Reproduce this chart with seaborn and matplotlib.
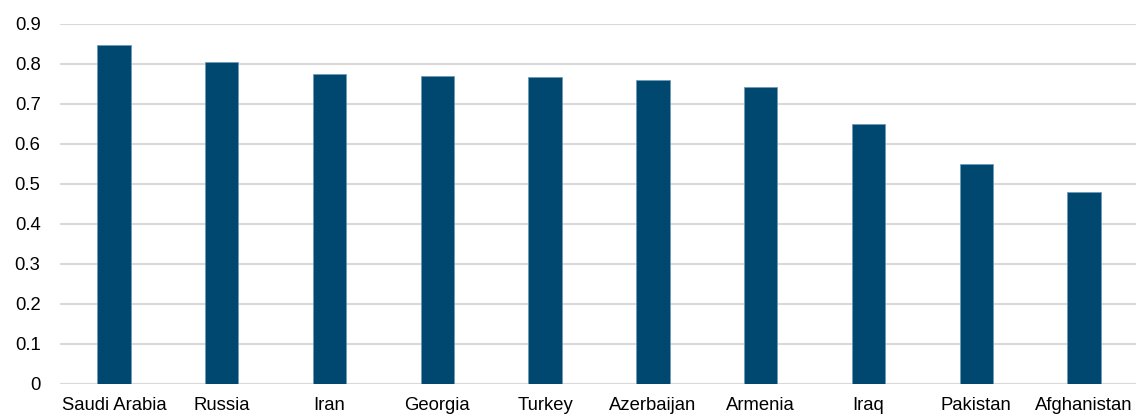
import matplotlib
matplotlib.use("Agg")
import matplotlib.pyplot as plt
import seaborn as sns
import pandas as pd

countries = ["Saudi Arabia", "Russia", "Iran", "Georgia", "Turkey",
             "Azerbaijan", "Armenia", "Iraq", "Pakistan", "Afghanistan"]
scores = [0.847, 0.804, 0.775, 0.769, 0.767, 0.759, 0.743, 0.649, 0.550, 0.479]
y_ticks = [0, 0.1, 0.2, 0.3, 0.4, 0.5, 0.6, 0.7, 0.8, 0.9]
y_tick_labels = ["0", "0.1", "0.2", "0.3", "0.4", "0.5", "0.6", "0.7", "0.8", "0.9"]

df = pd.DataFrame({"country": countries, "score": scores})

sns.set_theme(style="white")
plt.rcParams["font.family"] = ["Liberation Sans", "DejaVu Sans"]

W, H = 1136, 416
fig = plt.figure(figsize=(W / 100, H / 100), dpi=100)
ax = fig.add_axes([60 / W, 32 / H, 1078 / W, (384 - 24) / H])

sns.barplot(data=df, x="country", y="score", color="#004870", width=0.31,
            edgecolor="#6f9bb8", linewidth=0.6, saturation=1, ax=ax)

ax.set_ylim(0, 0.9)
ax.set_xlim(-0.5, len(countries) - 0.5)
ax.set_yticks(y_ticks)
ax.set_yticklabels(y_tick_labels)
ax.yaxis.grid(True, color="#d9d9d9", linewidth=1.5)
ax.set_axisbelow(True)
for s in ax.spines.values():
    s.set_visible(False)
ax.axhline(0, color="#d9d9d9", linewidth=1.5, zorder=0)
ax.set_xlabel("")
ax.set_ylabel("")
ax.tick_params(axis="both", length=0, labelsize=13.3, labelcolor="#000000")
ax.tick_params(axis="y", pad=14)
ax.tick_params(axis="x", pad=9)

fig.savefig("out.png", dpi=100)
